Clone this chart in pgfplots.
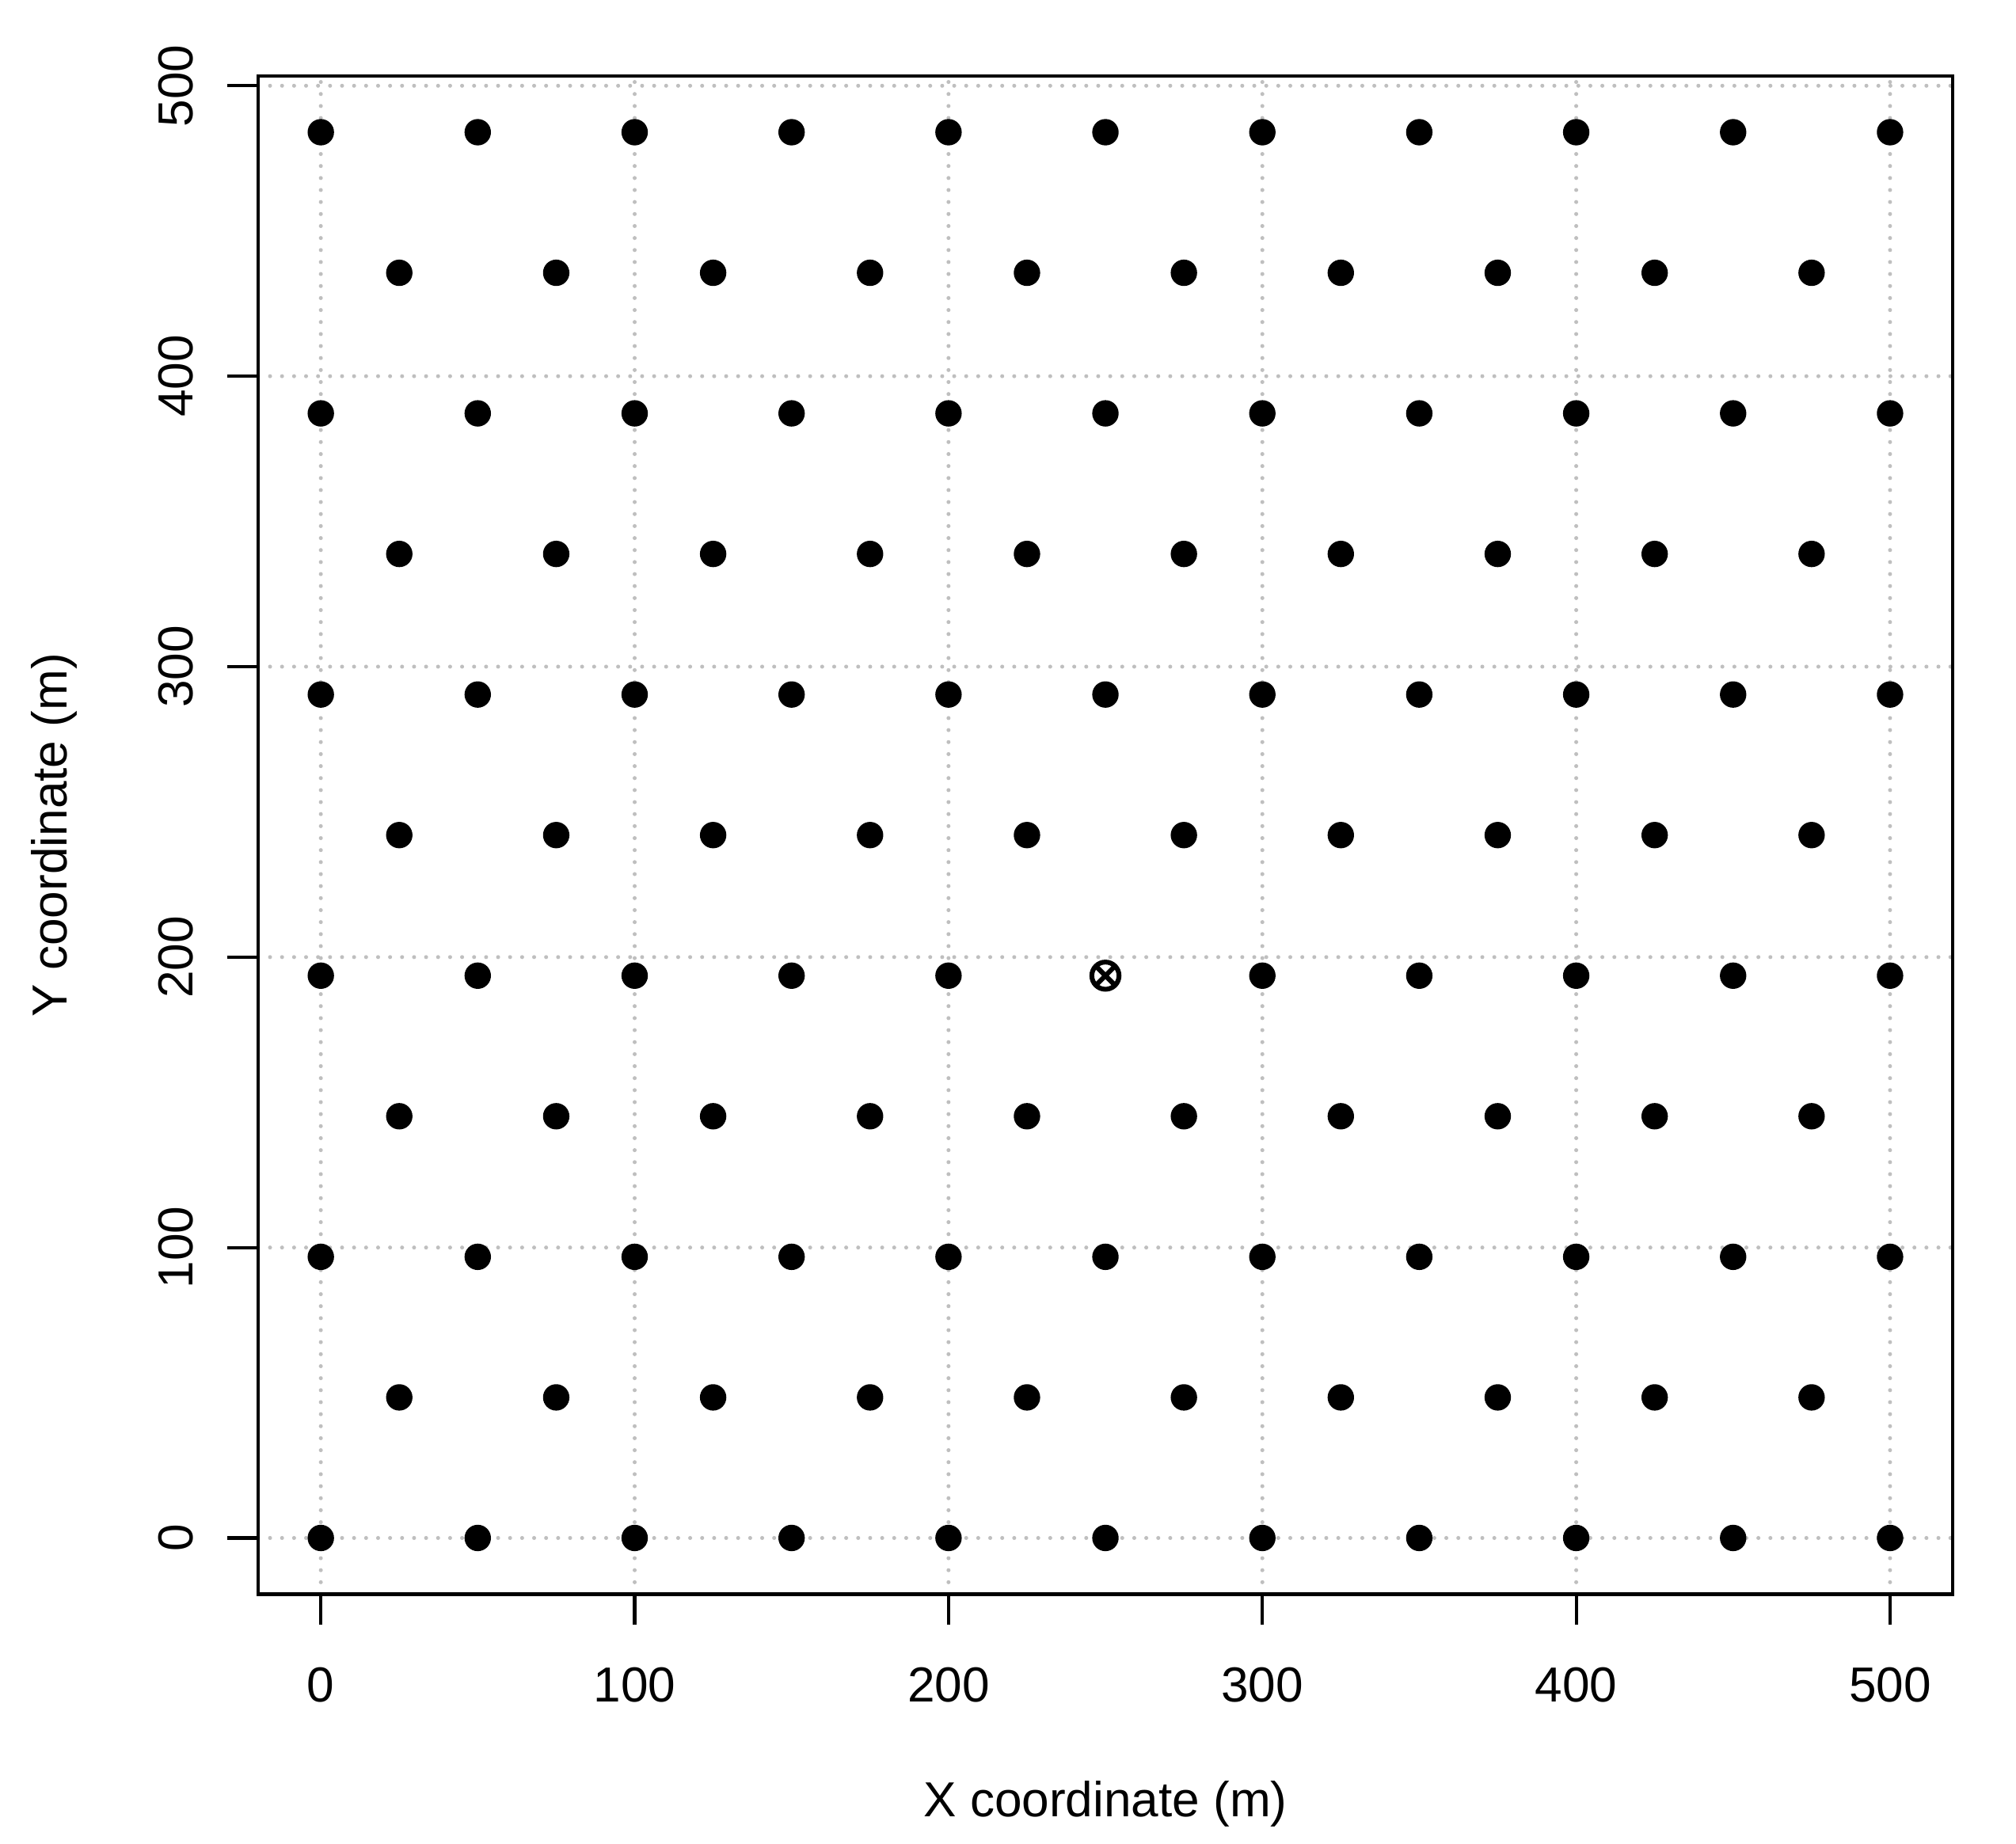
\documentclass[border=0pt]{standalone}
\usepackage{fontspec}
\setmainfont{Liberation Sans}
\usepackage{pgfplots}
\pgfplotsset{compat=1.18}
\begin{document}
\begin{tikzpicture}
\begin{axis}[
    scale only axis,
    width=423.6pt, height=379.5pt,
    xmin=-20, xmax=520, ymin=-19.36, ymax=503.36,
    xtick={0,100,200,300,400,500},
    ytick={0,100,200,300,400,500},
    tick pos=left,
    tick align=outside,
    major tick length=7.6pt,
    every tick/.style={black, line width=0.8pt},
    axis line style={line width=0.8pt},
    grid=major,
    major grid style={lightgray, line width=1pt, line cap=round, dash pattern=on 0pt off 3pt},
    axis on top,
    /pgf/number format/assume math mode=true,
    tick label style={font=\fontsize{12.3}{14}\selectfont},
    label style={font=\fontsize{12.3}{14}\selectfont},
    yticklabel style={rotate=90, anchor=center},
    xticklabel style={anchor=center},
    xticklabel shift=15pt,
    yticklabel shift=13pt,
    xlabel={X coordinate (m)},
    ylabel={Y coordinate (m)},
    xlabel style={at={(axis description cs:0.5,-0.1383)}, anchor=center},
    ylabel style={at={(axis description cs:-0.1204,0.5)}, anchor=center},
]
\addplot[only marks, mark=*, mark size=3.1pt, black] coordinates {
(0,0) (50,0) (100,0) (150,0) (200,0) (250,0) (300,0) (350,0) (400,0) (450,0) (500,0)
(25,48.4) (75,48.4) (125,48.4) (175,48.4) (225,48.4) (275,48.4) (325,48.4) (375,48.4) (425,48.4) (475,48.4)
(0,96.8) (50,96.8) (100,96.8) (150,96.8) (200,96.8) (250,96.8) (300,96.8) (350,96.8) (400,96.8) (450,96.8) (500,96.8)
(25,145.2) (75,145.2) (125,145.2) (175,145.2) (225,145.2) (275,145.2) (325,145.2) (375,145.2) (425,145.2) (475,145.2)
(0,193.6) (50,193.6) (100,193.6) (150,193.6) (200,193.6) (300,193.6) (350,193.6) (400,193.6) (450,193.6) (500,193.6)
(25,242) (75,242) (125,242) (175,242) (225,242) (275,242) (325,242) (375,242) (425,242) (475,242)
(0,290.4) (50,290.4) (100,290.4) (150,290.4) (200,290.4) (250,290.4) (300,290.4) (350,290.4) (400,290.4) (450,290.4) (500,290.4)
(25,338.8) (75,338.8) (125,338.8) (175,338.8) (225,338.8) (275,338.8) (325,338.8) (375,338.8) (425,338.8) (475,338.8)
(0,387.2) (50,387.2) (100,387.2) (150,387.2) (200,387.2) (250,387.2) (300,387.2) (350,387.2) (400,387.2) (450,387.2) (500,387.2)
(25,435.6) (75,435.6) (125,435.6) (175,435.6) (225,435.6) (275,435.6) (325,435.6) (375,435.6) (425,435.6) (475,435.6)
(0,484) (50,484) (100,484) (150,484) (200,484) (250,484) (300,484) (350,484) (400,484) (450,484) (500,484)
};
\addplot[only marks, mark=otimes, mark size=3.4pt, black, line width=1.2pt] coordinates {(250,193.6)};
\end{axis}
\path (current axis.south west) ++(-64.5pt,-62.4pt);
\path (current axis.north east) ++(15.8pt,19pt);
\end{tikzpicture}
\end{document}
